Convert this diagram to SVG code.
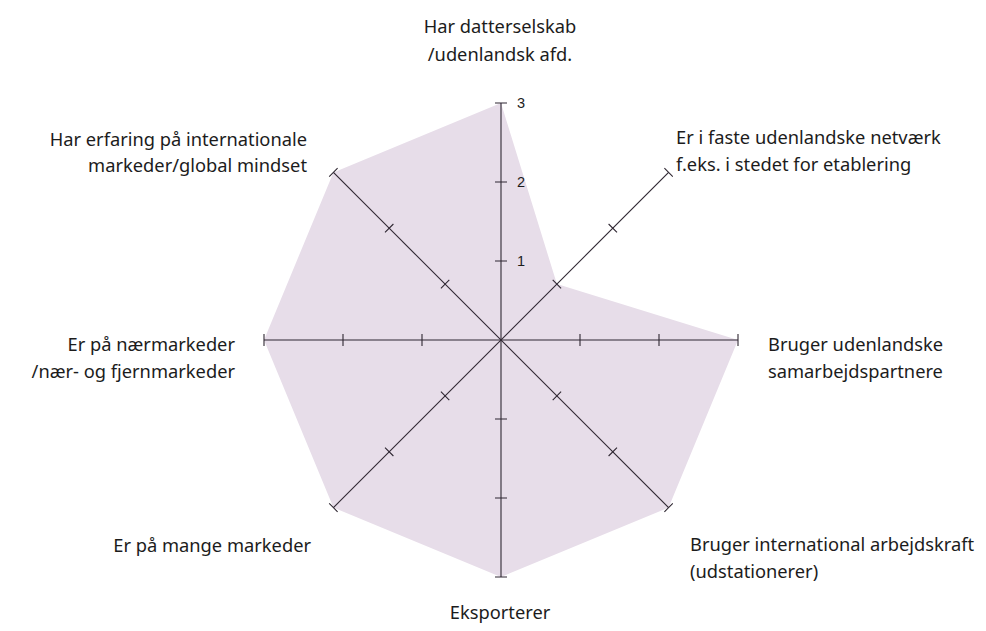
<svg xmlns="http://www.w3.org/2000/svg" width="986" height="631" viewBox="0 0 986 631">
<style>
.area{fill:#e7dde9;stroke:none}
.ax{stroke:#2f2732;stroke-width:1.1;fill:none}
.lbl{font-family:"Noto Sans","Open Sans","Liberation Sans",sans-serif;font-size:18.3px;fill:#1c1c1c}
.num{font-family:"Liberation Sans",Arial,sans-serif;font-size:14.5px;fill:#1c1c1c}
</style>
<rect width="986" height="631" fill="#ffffff"/>
<g id="data-area">
<polygon class="area" points="501,103 556.9,284.1 738,340 668.6,507.6 501,577 333.4,507.6 264,340 333.4,172.4"/>
</g>
<g id="connectors">
<line class="ax" x1="501" y1="103" x2="501" y2="577"/>
<line class="ax" x1="264" y1="340" x2="738" y2="340"/>
<line class="ax" x1="333.4" y1="172.4" x2="668.6" y2="507.6"/>
<line class="ax" x1="333.4" y1="507.6" x2="668.6" y2="172.4"/>
<path class="ax" d="M495 103H507M495 182H507M495 261H507M495 419H507M495 498H507M495 577H507"/>
<path class="ax" d="M264 334V346M343 334V346M422 334V346M580 334V346M659 334V346M738 334V346"/>
<path class="ax" d="M552.7 279.9L561.1 288.3M608.6 224L617 232.4M664.4 168.2L672.8 176.6M440.9 391.7L449.3 400.1M385 447.6L393.4 456M329.2 503.4L337.6 511.8"/>
<path class="ax" d="M329.2 176.6L337.6 168.2M385 232.4L393.4 224M440.9 288.3L449.3 279.9M552.7 400.1L561.1 391.7M608.6 456L617 447.6M664.4 511.8L672.8 503.4"/>
</g>
<g id="scale">
<text class="num" x="517" y="108">3</text>
<text class="num" x="517" y="187">2</text>
<text class="num" x="517" y="266">1</text>
</g>
<g id="n-top"><text class="lbl" text-anchor="middle" x="500" y="33">Har datterselskab</text><text class="lbl" text-anchor="middle" x="500" y="61">/udenlandsk afd.</text></g>
<g id="n-ne"><text class="lbl" x="676" y="144">Er i faste udenlandske netværk</text><text class="lbl" x="676" y="171">f.eks. i stedet for etablering</text></g>
<g id="n-e"><text class="lbl" x="768" y="351">Bruger udenlandske</text><text class="lbl" x="768" y="378">samarbejdspartnere</text></g>
<g id="n-se"><text class="lbl" x="690" y="551">Bruger international arbejdskraft</text><text class="lbl" x="690" y="578">(udstationerer)</text></g>
<g id="n-s"><text class="lbl" text-anchor="middle" x="500" y="619">Eksporterer</text></g>
<g id="n-sw"><text class="lbl" text-anchor="end" x="311" y="552">Er på mange markeder</text></g>
<g id="n-w"><text class="lbl" text-anchor="end" x="235" y="351">Er på nærmarkeder</text><text class="lbl" text-anchor="end" x="235" y="378">/nær- og fjernmarkeder</text></g>
<g id="n-nw"><text class="lbl" text-anchor="end" x="307" y="146">Har erfaring på internationale</text><text class="lbl" text-anchor="end" x="307" y="172">markeder/global mindset</text></g>
</svg>
